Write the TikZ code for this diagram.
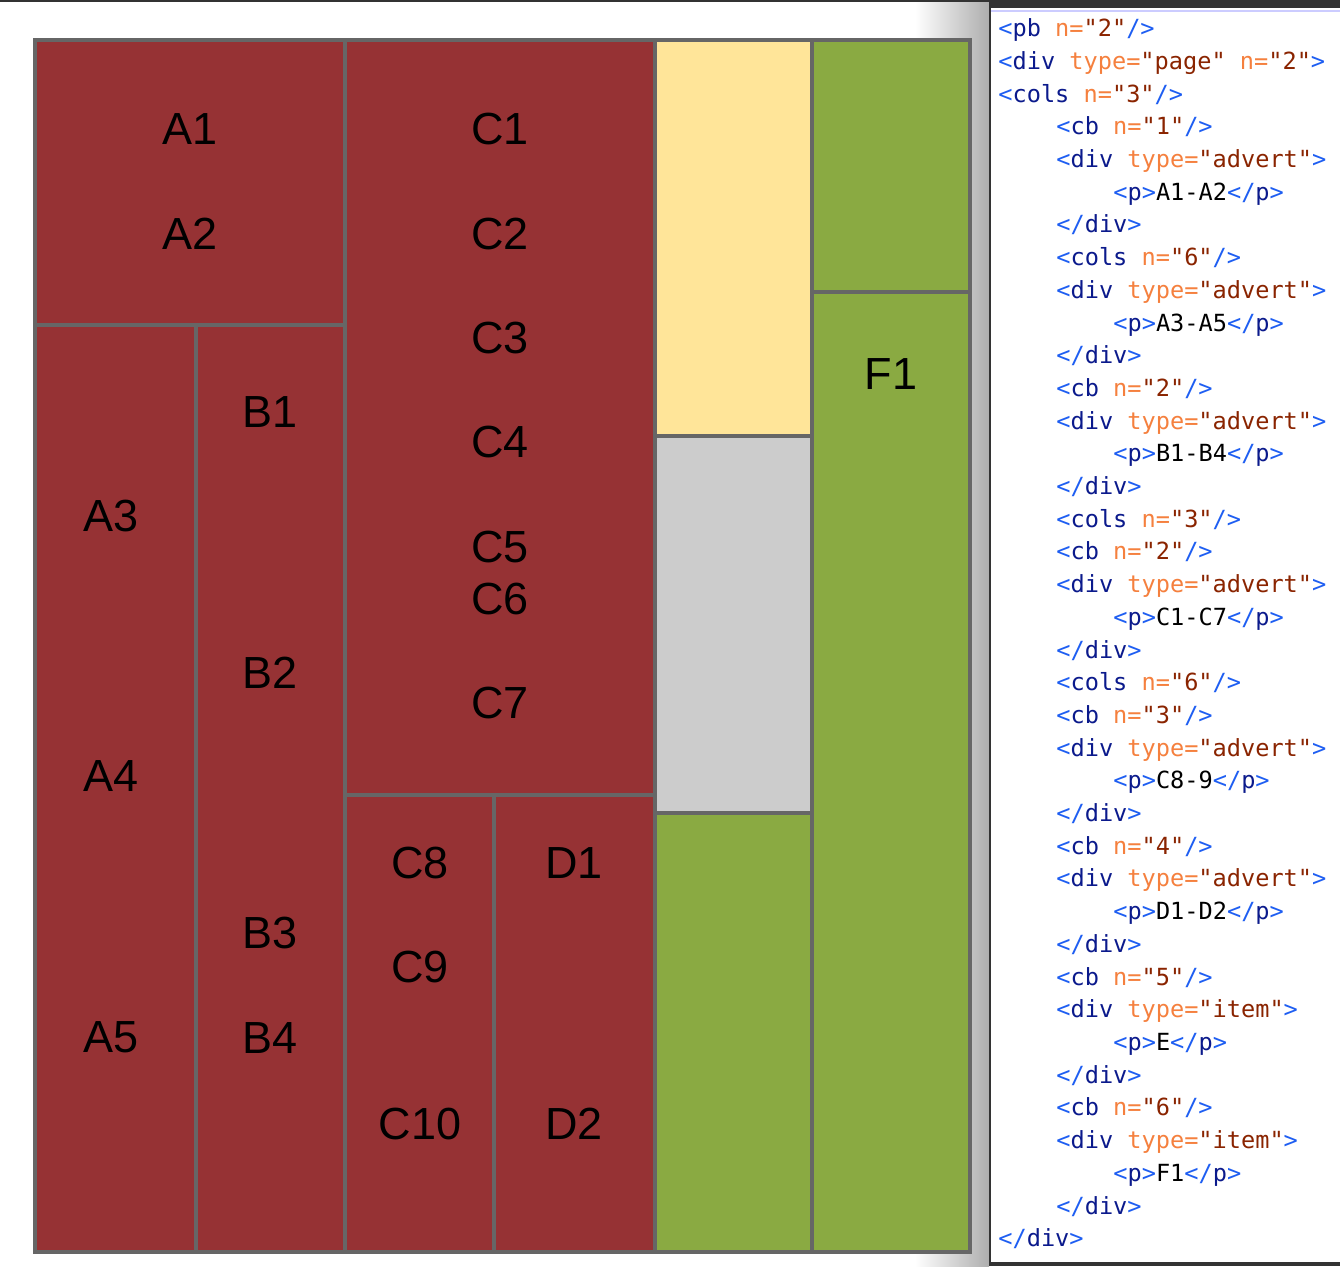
\documentclass[tikz,border=0pt]{standalone}
\usepackage{fontspec}
\setmainfont{Liberation Sans}
\newfontfamily\codefont{DejaVu Sans Mono}
\usetikzlibrary{positioning}

\definecolor{advred}{HTML}{963234}
\definecolor{padyellow}{HTML}{FFE599}
\definecolor{padgray}{HTML}{CCCCCC}
\definecolor{itemgreen}{HTML}{8AAA42}
\definecolor{edgegray}{HTML}{666666}
\definecolor{barblack}{HTML}{333333}
\definecolor{punct}{HTML}{1E5EF2}
\definecolor{tagname}{HTML}{0B1A8C}
\definecolor{attname}{HTML}{F5803E}
\definecolor{attval}{HTML}{8A2400}

\newcommand\tagopen{\textcolor{punct}{<}}
\newcommand\tagclose{\textcolor{punct}{>}}
\newcommand\tagself{\textcolor{punct}{/>}}
\newcommand\tagend{\textcolor{punct}{</}}
\newcommand\tname[1]{\textcolor{tagname}{#1}}
\newcommand\aname[1]{\textcolor{attname}{#1=}}
\newcommand\aval[1]{\textcolor{attval}{"#1"}}

\tikzset{
  block/.style={draw=edgegray, line width=2pt},
  lbl/.style={font=\fontsize{22.5}{27}\selectfont, text=black, inner sep=0pt},
  code/.style={font=\codefont\fontsize{11.8}{14}\selectfont, anchor=mid west, inner sep=0pt}
}

\begin{document}
\begin{tikzpicture}[x=0.5pt, y=-0.5pt]
		%%%%% FRAME %%%%%
		\useasboundingbox (0, 0) rectangle (1340, 1266);
		\fill[white] (0, 0) rectangle (1340, 1266);
		\shade[left color=white, right color=black!32] (915, 0) rectangle (989, 1266);
		\fill[barblack] (0, 0) rectangle (1340, 2);
		
		%%%%% LAYOUT %%%%%
		\filldraw[block, fill=advred] (35, 40) rectangle (345, 325);
		\filldraw[block, fill=advred] (35, 325) rectangle (196, 1252);
		\filldraw[block, fill=advred] (196, 325) rectangle (345, 1252);
		\filldraw[block, fill=advred] (345, 40) rectangle (655, 795);
		\filldraw[block, fill=advred] (345, 795) rectangle (494, 1252);
		\filldraw[block, fill=advred] (494, 795) rectangle (655, 1252);
		
		\filldraw[block, fill=padyellow] (655, 40) rectangle (812, 436);
		\filldraw[block, fill=padgray] (655, 436) rectangle (812, 813);
		\filldraw[block, fill=itemgreen] (655, 813) rectangle (812, 1252);
		\filldraw[block, fill=itemgreen] (812, 40) rectangle (970, 292);
		\filldraw[block, fill=itemgreen] (812, 292) rectangle (970, 1252);
		
		\node[lbl] (a1) at (190, 129) {A1};
		\node[lbl] (a2) at (190, 234) {A2};
		\node[lbl] (a3) at (111, 516) {A3};
		\node[lbl] (a4) at (111, 776) {A4};
		\node[lbl] (a5) at (111, 1037) {A5};
		
		\node[lbl] (b1) at (270, 412) {B1};
		\node[lbl] (b2) at (270, 673) {B2};
		\node[lbl] (b3) at (270, 933) {B3};
		\node[lbl] (b4) at (270, 1038) {B4};
		
		\node[lbl] (c1) at (500, 129) {C1};
		\node[lbl] (c2) at (500, 234) {C2};
		\node[lbl] (c3) at (500, 338) {C3};
		\node[lbl] (c4) at (500, 442) {C4};
		\node[lbl] (c5) at (500, 547) {C5};
		\node[lbl] (c6) at (500, 599) {C6};
		\node[lbl] (c7) at (500, 703) {C7};
		\node[lbl] (c8) at (420, 863) {C8};
		\node[lbl] (c9) at (420, 967) {C9};
		\node[lbl] (c10) at (420, 1124) {C10};
		
		\node[lbl] (d1) at (574, 863) {D1};
		\node[lbl] (d2) at (574, 1124) {D2};
		\node[lbl] (f1) at (891, 374) {F1};
		
		%%%%% CODE PANEL %%%%%
		\fill[white] (991, 8) rectangle (1340, 1262);
		\fill[barblack] (989, 0) rectangle (1340, 8);
		\fill[barblack] (989, 1262) rectangle (1340, 1266);
		\fill[barblack] (989, 0) rectangle (991, 1266);
		\fill[blue!20] (991, 10) rectangle (1340, 11.5);
		
		\begin{scope}[shift={(0, 3.5)}]
		\node[code] (l1) at (998, 28) {\tagopen\tname{pb} \aname{n}\aval{2}\tagself};
		\node[code] (l2) at (998, 60.7) {\tagopen\tname{div} \aname{type}\aval{page} \aname{n}\aval{2}\tagclose};
		\node[code] (l3) at (998, 93.4) {\tagopen\tname{cols} \aname{n}\aval{3}\tagself};
		\node[code] (l4) at (1056, 126.1) {\tagopen\tname{cb} \aname{n}\aval{1}\tagself};
		\node[code] (l5) at (1056, 158.8) {\tagopen\tname{div} \aname{type}\aval{advert}\tagclose};
		\node[code] (l6) at (1113, 191.5) {\tagopen\tname{p}\tagclose A1-A2\tagend\tname{p}\tagclose};
		\node[code] (l7) at (1056, 224.2) {\tagend\tname{div}\tagclose};
		\node[code] (l8) at (1056, 256.9) {\tagopen\tname{cols} \aname{n}\aval{6}\tagself};
		\node[code] (l9) at (1056, 289.6) {\tagopen\tname{div} \aname{type}\aval{advert}\tagclose};
		\node[code] (l10) at (1113, 322.3) {\tagopen\tname{p}\tagclose A3-A5\tagend\tname{p}\tagclose};
		\node[code] (l11) at (1056, 355) {\tagend\tname{div}\tagclose};
		\node[code] (l12) at (1056, 387.7) {\tagopen\tname{cb} \aname{n}\aval{2}\tagself};
		\node[code] (l13) at (1056, 420.4) {\tagopen\tname{div} \aname{type}\aval{advert}\tagclose};
		\node[code] (l14) at (1113, 453.1) {\tagopen\tname{p}\tagclose B1-B4\tagend\tname{p}\tagclose};
		\node[code] (l15) at (1056, 485.8) {\tagend\tname{div}\tagclose};
		\node[code] (l16) at (1056, 518.5) {\tagopen\tname{cols} \aname{n}\aval{3}\tagself};
		\node[code] (l17) at (1056, 551.2) {\tagopen\tname{cb} \aname{n}\aval{2}\tagself};
		\node[code] (l18) at (1056, 583.9) {\tagopen\tname{div} \aname{type}\aval{advert}\tagclose};
		\node[code] (l19) at (1113, 616.6) {\tagopen\tname{p}\tagclose C1-C7\tagend\tname{p}\tagclose};
		\node[code] (l20) at (1056, 649.3) {\tagend\tname{div}\tagclose};
		\node[code] (l21) at (1056, 682) {\tagopen\tname{cols} \aname{n}\aval{6}\tagself};
		\node[code] (l22) at (1056, 714.7) {\tagopen\tname{cb} \aname{n}\aval{3}\tagself};
		\node[code] (l23) at (1056, 747.4) {\tagopen\tname{div} \aname{type}\aval{advert}\tagclose};
		\node[code] (l24) at (1113, 780.1) {\tagopen\tname{p}\tagclose C8-9\tagend\tname{p}\tagclose};
		\node[code] (l25) at (1056, 812.8) {\tagend\tname{div}\tagclose};
		\node[code] (l26) at (1056, 845.5) {\tagopen\tname{cb} \aname{n}\aval{4}\tagself};
		\node[code] (l27) at (1056, 878.2) {\tagopen\tname{div} \aname{type}\aval{advert}\tagclose};
		\node[code] (l28) at (1113, 910.9) {\tagopen\tname{p}\tagclose D1-D2\tagend\tname{p}\tagclose};
		\node[code] (l29) at (1056, 943.6) {\tagend\tname{div}\tagclose};
		\node[code] (l30) at (1056, 976.3) {\tagopen\tname{cb} \aname{n}\aval{5}\tagself};
		\node[code] (l31) at (1056, 1009) {\tagopen\tname{div} \aname{type}\aval{item}\tagclose};
		\node[code] (l32) at (1113, 1041.7) {\tagopen\tname{p}\tagclose E\tagend\tname{p}\tagclose};
		\node[code] (l33) at (1056, 1074.4) {\tagend\tname{div}\tagclose};
		\node[code] (l34) at (1056, 1107.1) {\tagopen\tname{cb} \aname{n}\aval{6}\tagself};
		\node[code] (l35) at (1056, 1139.8) {\tagopen\tname{div} \aname{type}\aval{item}\tagclose};
		\node[code] (l36) at (1113, 1172.5) {\tagopen\tname{p}\tagclose F1\tagend\tname{p}\tagclose};
		\node[code] (l37) at (1056, 1205.2) {\tagend\tname{div}\tagclose};
		\node[code] (l38) at (998, 1237.9) {\tagend\tname{div}\tagclose};
		\end{scope}
		
		%%%%% END %%%%%
	\end{tikzpicture}
\end{document}
